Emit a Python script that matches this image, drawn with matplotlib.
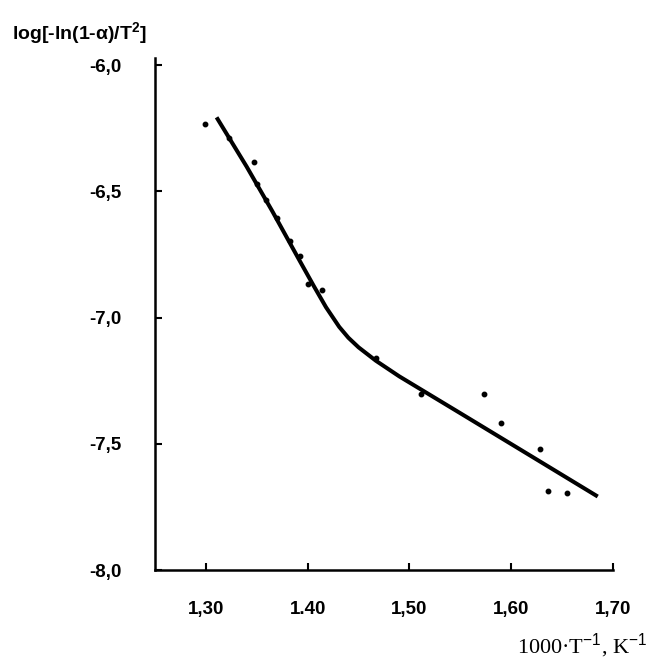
import matplotlib
matplotlib.use("Agg")
import matplotlib.pyplot as plt

pts_x = [1.299, 1.323, 1.347, 1.350, 1.359, 1.370, 1.383, 1.392, 1.400, 1.414,
         1.467, 1.511, 1.573, 1.590, 1.628, 1.636, 1.655]
pts_y = [-6.232, -6.289, -6.383, -6.470, -6.535, -6.606, -6.696, -6.755, -6.869, -6.889,
         -7.159, -7.302, -7.304, -7.416, -7.520, -7.689, -7.696]

# fitted curve
fit_x = [1.3105, 1.340, 1.365, 1.392, 1.406, 1.418, 1.431, 1.440, 1.450, 1.467,
         1.490, 1.550, 1.620, 1.685]
fit_y = [-6.207, -6.402, -6.577, -6.774, -6.875, -6.959, -7.037, -7.080, -7.118, -7.171,
         -7.233, -7.379, -7.550, -7.709]

xticks = [1.30, 1.40, 1.50, 1.60, 1.70]
xtick_labels = ["1,30", "1.40", "1,50", "1,60", "1,70"]
yticks = [-8.0, -7.5, -7.0, -6.5, -6.0]
ytick_labels = ["-8,0", "-7,5", "-7,0", "-6,5", "-6,0"]

plt.rcParams['mathtext.fontset'] = 'custom'
plt.rcParams['mathtext.rm'] = 'Liberation Sans'
plt.rcParams['mathtext.bf'] = 'Liberation Sans:bold'
plt.rcParams['mathtext.it'] = 'Liberation Sans:italic'

fig = plt.figure(figsize=(6.49, 6.66), dpi=100)
ax = fig.add_axes([155/649, 1-570/666, (613-155)/649, (570-58)/666])

ax.plot(fit_x, fit_y, color='black', lw=2.9, solid_capstyle='butt',
        solid_joinstyle='round', zorder=2)
ax.plot(pts_x, pts_y, 'o', color='black', ms=3.2, zorder=3)

ax.set_xlim(1.25, 1.70)
ax.set_ylim(-8.0, -5.972)

for s in ['top', 'right']:
    ax.spines[s].set_visible(False)
for s in ['left', 'bottom']:
    ax.spines[s].set_linewidth(1.8)

ax.set_xticks(xticks)
ax.set_xticklabels(xtick_labels, fontfamily='Liberation Sans', fontsize=13.5, fontweight='bold')
ax.set_yticks(yticks)
ax.set_yticklabels(ytick_labels, fontfamily='Liberation Sans', fontsize=13.5, fontweight='bold')
ax.tick_params(axis='both', direction='in', length=5, width=1.5)
ax.tick_params(axis='x', pad=22)
ax.tick_params(axis='y', pad=24)

fig.text(12/649, 1-39/666, r"log[-ln(1-α)/T$^{\mathbf{2}}$]", fontfamily='Liberation Sans',
         fontsize=14, fontweight='bold', ha='left', va='baseline')
fig.text(647/649, 1-653/666, r"1000·T$^{\mathrm{-1}}$, K$^{\mathrm{-1}}$", fontfamily='Liberation Serif',
         fontsize=16, ha='right', va='baseline')

fig.savefig("out.png", dpi=100)
